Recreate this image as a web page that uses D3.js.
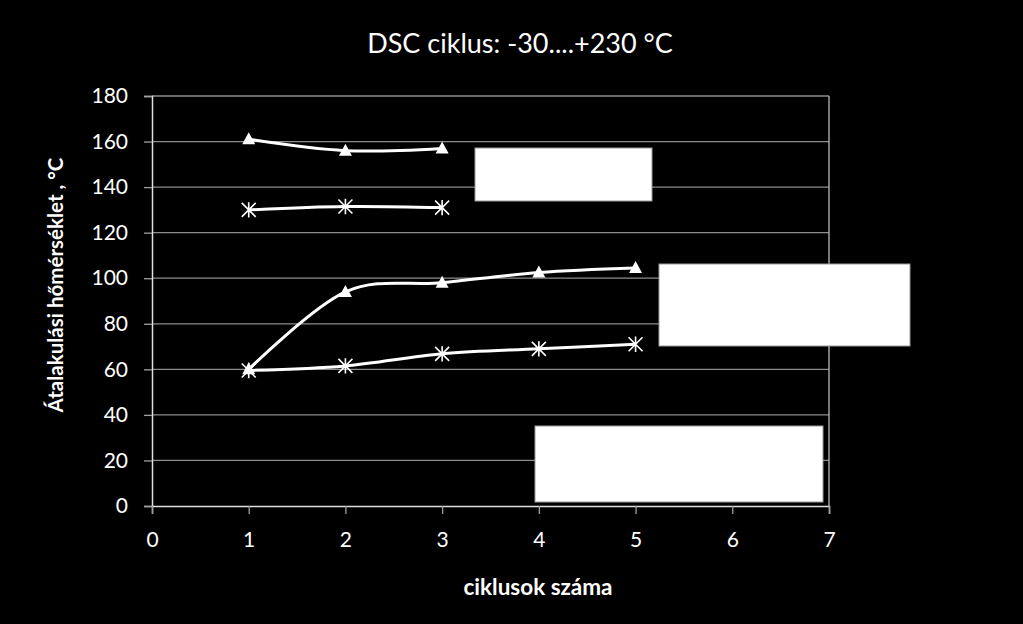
<!DOCTYPE html>
<html><head><meta charset="utf-8">
<script src="https://cdn.jsdelivr.net/npm/d3@7/dist/d3.min.js"></script>
<style>body{margin:0;background:#000;}svg{display:block;}</style>
</head><body>
<script>
const title = "DSC ciklus: -30....+230 °C";
const xLabel = "ciklusok száma";
const yLabel = "Átalakulási hőmérséklet , °C";
const xTicks = [0,1,2,3,4,5,6,7];
const yTicks = [0,20,40,60,80,100,120,140,160,180];
const upperTriX = [1,2,3];
const upperTriY = [161,156,157];
const upperStarX = [1,2,3];
const upperStarY = [130,131.5,131];
const lowerTriX = [1,2,3,4,5];
const lowerTriY = [60,94,98,102.5,104.5];
const lowerStarX = [1,2,3,4,5];
const lowerStarY = [59.5,61.5,66.8,69,71];
const series = [
  {x: upperTriX, y: upperTriY, marker: "tri"},
  {x: upperStarX, y: upperStarY, marker: "star"},
  {x: lowerTriX, y: lowerTriY, marker: "tri"},
  {x: lowerStarX, y: lowerStarY, marker: "star"}
];

const W = 1023, H = 624;
const L = 152, R = 829, T = 96, B = 506;
const svg = d3.select("body").append("svg").attr("width", W).attr("height", H);
svg.append("rect").attr("width", W).attr("height", H).attr("fill", "#000");

const x = d3.scaleLinear().domain([0,7]).range([L,R]);
const y = d3.scaleLinear().domain([0,180]).range([B,T]);
const font = "Lato, sans-serif";

// gridlines
svg.append("g").selectAll("line").data(yTicks.filter(d=>d>0)).join("line")
  .attr("x1", L).attr("x2", R).attr("y1", d=>y(d)).attr("y2", d=>y(d))
  .attr("stroke", "#8c8c8c").attr("stroke-width", 1.3);
// right border
svg.append("line").attr("x1", R).attr("x2", R).attr("y1", T).attr("y2", B)
  .attr("stroke", "#bbbbbb").attr("stroke-width", 1.3);

// axes
const yAxis = svg.append("g").attr("transform", `translate(${L},0)`)
  .call(d3.axisLeft(y).tickValues(yTicks).tickSize(8).tickPadding(16).tickFormat(d3.format("d")));
const xAxis = svg.append("g").attr("transform", `translate(0,${B})`)
  .call(d3.axisBottom(x).tickValues(xTicks).tickSize(8).tickPadding(18).tickFormat(d3.format("d")));
[yAxis, xAxis].forEach(a => {
  a.select(".domain").attr("stroke", "#e0e0e0").attr("stroke-width", 1.5);
  a.selectAll(".tick line").attr("stroke", "#a0a0a0").attr("stroke-width", 1.3);
  a.selectAll("text").attr("fill", "#fff").style("font-family", font).style("font-size", "21px");
});

// lines
const line = d3.line().x(d=>x(d[0])).y(d=>y(d[1])).curve(d3.curveCatmullRom.alpha(0));
series.forEach(s => {
  const pts = s.x.map((v,i)=>[v, s.y[i]]);
  svg.append("path").datum(pts).attr("d", line).attr("fill", "none")
    .attr("stroke", "#fff").attr("stroke-width", 3);
});
// markers
series.forEach(s => {
  const pts = s.x.map((v,i)=>[v, s.y[i]]);
  const g = svg.append("g");
  pts.forEach(p => {
    const cx = x(p[0]), cy = y(p[1]);
    if (s.marker === "tri") {
      g.append("path").attr("d", `M${cx},${cy-7}L${cx+6.5},${cy+5}L${cx-6.5},${cy+5}Z`).attr("fill", "#fff");
    } else {
      const r = 7;
      g.append("path").attr("d",
        `M${cx-r},${cy-r}L${cx+r},${cy+r}M${cx-r},${cy+r}L${cx+r},${cy-r}M${cx},${cy-r*1.1}L${cx},${cy+r*1.1}`)
        .attr("stroke", "#fff").attr("stroke-width", 1.6).attr("fill", "none");
    }
  });
});

// blank legend boxes
const boxes = [[475,148,652,201],[659,264,910,346],[535,426,823,502]];
svg.append("g").selectAll("rect").data(boxes).join("rect")
  .attr("x", d=>d[0]).attr("y", d=>d[1]).attr("width", d=>d[2]-d[0]).attr("height", d=>d[3]-d[1])
  .attr("fill", "#fff").attr("stroke", "#999").attr("stroke-width", 1);

// titles
svg.append("text").attr("x", 520).attr("y", 53).attr("text-anchor", "middle")
  .attr("fill", "#fff").style("font-family", font).style("font-size", "27px").text(title);
svg.append("text").attr("x", 538).attr("y", 595).attr("text-anchor", "middle")
  .attr("fill", "#fff").style("font-family", font).style("font-size", "22.5px").style("font-weight", "bold").text(xLabel);
svg.append("text").attr("transform", "translate(63,285) rotate(-90)").attr("text-anchor", "middle")
  .attr("fill", "#fff").style("font-family", font).style("font-size", "20.5px").style("font-weight", "bold").text(yLabel);
</script>
</body></html>
